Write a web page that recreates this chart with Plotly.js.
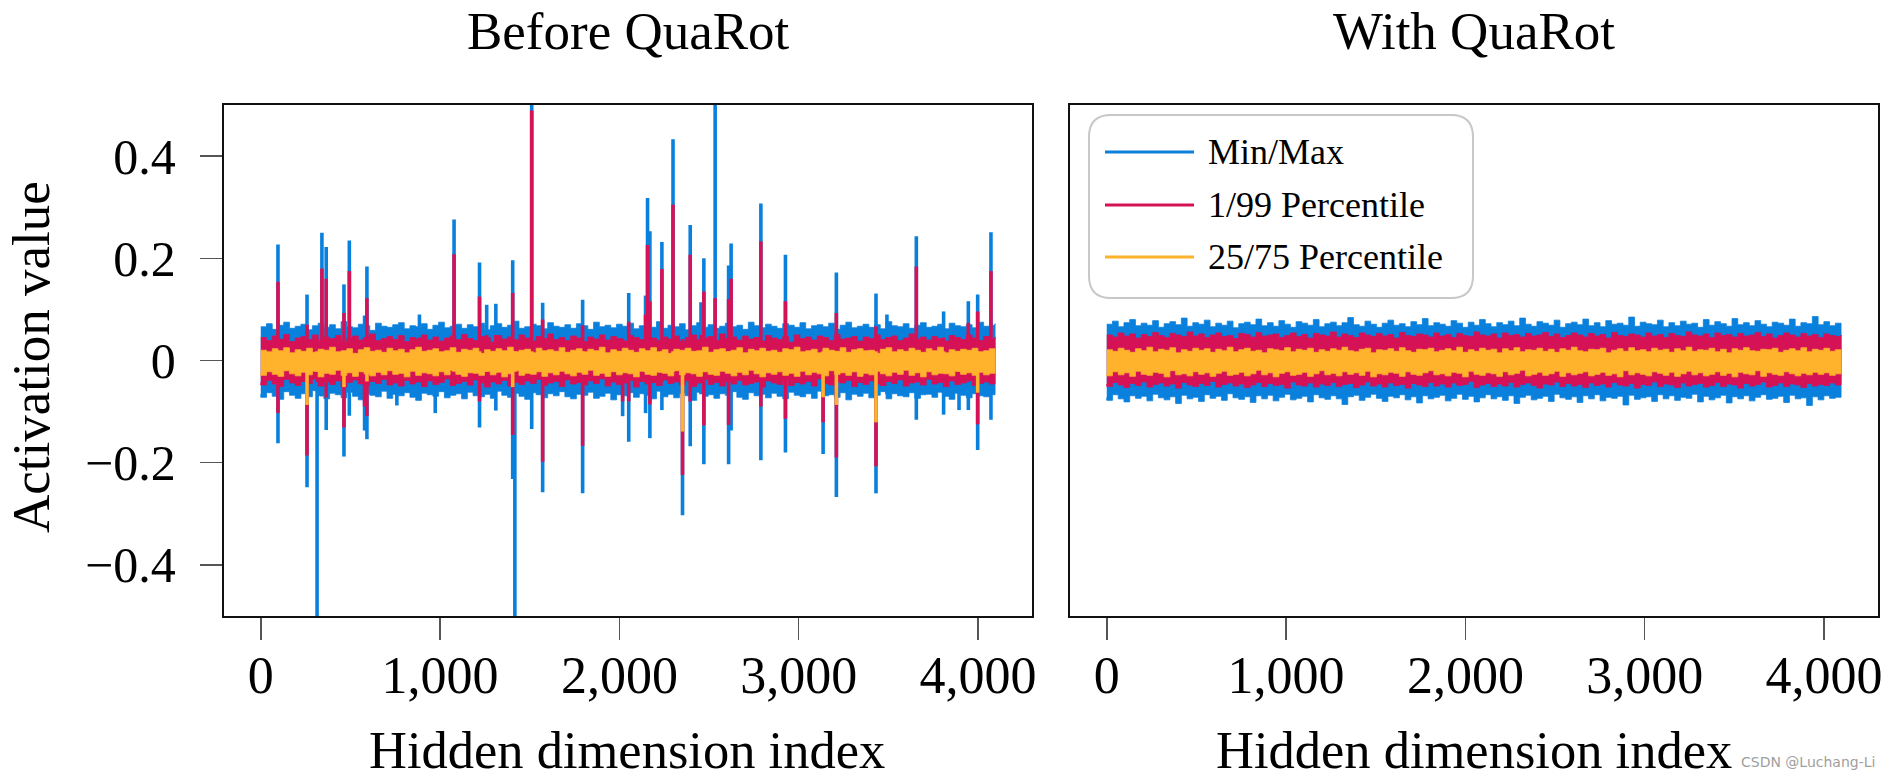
<!DOCTYPE html>
<html><head><meta charset="utf-8">
<script src="https://cdn.plot.ly/plotly-3.0.1.min.js"></script>
<style>html,body{margin:0;padding:0;background:#fff}#chart{width:1889px;height:779px}</style>
</head><body><div id="chart"></div>
<script>
// ---------------- DATA ----------------
// Hidden dimension 0..4095, band edges sampled evenly along the dimension.
const tickValsX = [0, 1000, 2000, 3000, 4000];
const tickTextX = ['0', '1,000', '2,000', '3,000', '4,000'];
const tickValsY = [-0.4, -0.2, 0, 0.2, 0.4];
const tickTextY = ['\u22120.4', '\u22120.2', '0', '0.2', '0.4'];
const seriesNames = ['Min/Max', '1/99 Percentile', '25/75 Percentile'];

// Before QuaRot – typical band edges
const leftMax = [.066,.072,.061,.069,.075,.063,.067,.071,.06,.068,.073,.065,.07,.062,.076,.066,.064,.071,.068,.059,.073,.067,.065,.07,.074,.062,.068,.066,.072,.061,.069,.075,.064,.067,.071,.063,.07,.066,.073,.06,.068,.072,.065,.069,.077,.063,.066,.071,.068,.062,.074,.067,.065,.07,.063,.072,.068,.061,.075,.066,.069,.064,.071,.067,.073,.062,.068,.07,.065,.076,.063,.069,.066,.072,.06,.068,.074,.065,.07,.063,.067,.073,.066,.069,.061,.075,.068,.064,.071,.067,.063,.072,.069,.065,.074,.062,.068,.07,.066,.073,.061,.069,.075,.064,.067,.071,.065,.07,.062,.076,.068,.066,.072,.063,.069,.074,.065,.067,.071,.062,.073,.068,.066,.07,.064,.075,.067,.069,.072];
const leftP99 = [.045,.039,.048,.042,.051,.037,.044,.047,.041,.05,.038,.046,.043,.049,.036,.044,.048,.04,.045,.052,.039,.043,.047,.041,.049,.037,.045,.042,.05,.04,.046,.038,.044,.048,.041,.051,.043,.039,.047,.045,.036,.049,.042,.046,.04,.05,.044,.038,.047,.043,.052,.041,.045,.039,.048,.044,.037,.046,.042,.05,.04,.047,.043,.038,.049,.045,.041,.051,.044,.039,.046,.042,.048,.037,.045,.05,.041,.044,.047,.039,.052,.043,.046,.04,.048,.042,.045,.038,.049,.044,.041,.047,.036,.05,.043,.046,.04,.048,.045,.039,.051,.042,.044,.047,.038,.046,.043,.05,.041,.045,.048,.039,.044,.052,.042,.046,.04,.047,.043,.038,.049,.045,.041,.05,.044,.039,.047,.042,.046];
const leftP75 = [.02,.017,.023,.019,.025,.015,.021,.018,.024,.016,.022,.02,.026,.017,.019,.023,.014,.021,.025,.018,.02,.016,.024,.019,.022,.015,.021,.026,.018,.02,.023,.017,.019,.025,.016,.022,.02,.024,.014,.021,.018,.023,.019,.026,.017,.02,.022,.015,.024,.019,.021,.018,.025,.016,.02,.023,.017,.022,.019,.026,.015,.021,.018,.024,.02,.016,.023,.019,.025,.017,.021,.014,.022,.02,.024,.018,.019,.026,.016,.021,.023,.017,.02,.025,.015,.022,.019,.024,.018,.02,.016,.023,.021,.026,.017,.019,.022,.015,.024,.02,.018,.025,.016,.021,.023,.019,.02,.014,.022,.025,.017,.021,.018,.024,.02,.016,.023,.019,.026,.015,.021,.018,.022,.02,.024,.017,.019,.023,.021];
const leftP25 = [-.025,-.029,-.022,-.027,-.031,-.02,-.026,-.03,-.023,-.028,-.021,-.032,-.025,-.027,-.019,-.029,-.024,-.031,-.022,-.026,-.03,-.023,-.028,-.02,-.027,-.025,-.032,-.021,-.029,-.024,-.026,-.03,-.022,-.028,-.019,-.027,-.031,-.024,-.025,-.029,-.021,-.028,-.023,-.032,-.026,-.02,-.029,-.025,-.027,-.022,-.031,-.024,-.028,-.021,-.026,-.03,-.023,-.027,-.019,-.029,-.025,-.031,-.022,-.028,-.024,-.026,-.032,-.021,-.027,-.029,-.023,-.025,-.03,-.02,-.028,-.024,-.026,-.031,-.022,-.027,-.029,-.021,-.025,-.03,-.023,-.028,-.019,-.026,-.032,-.024,-.027,-.022,-.029,-.025,-.031,-.021,-.028,-.023,-.026,-.03,-.02,-.027,-.024,-.029,-.022,-.031,-.025,-.028,-.021,-.026,-.03,-.023,-.027,-.019,-.029,-.024,-.032,-.022,-.028,-.025,-.026,-.03,-.021,-.027,-.024,-.029,-.023,-.028,-.025];
const leftP1 = [-.043,-.048,-.039,-.046,-.051,-.037,-.044,-.049,-.041,-.045,-.036,-.05,-.042,-.047,-.04,-.052,-.043,-.038,-.046,-.049,-.041,-.045,-.037,-.048,-.044,-.05,-.039,-.046,-.042,-.051,-.04,-.047,-.043,-.036,-.049,-.045,-.041,-.048,-.038,-.044,-.052,-.042,-.046,-.039,-.05,-.043,-.047,-.04,-.045,-.037,-.049,-.044,-.041,-.051,-.038,-.046,-.043,-.048,-.04,-.045,-.036,-.05,-.042,-.047,-.044,-.039,-.052,-.041,-.046,-.043,-.049,-.038,-.045,-.042,-.048,-.04,-.051,-.044,-.037,-.047,-.043,-.05,-.041,-.046,-.039,-.048,-.045,-.042,-.052,-.04,-.044,-.047,-.038,-.049,-.043,-.046,-.041,-.05,-.036,-.045,-.048,-.042,-.044,-.039,-.051,-.043,-.047,-.04,-.046,-.049,-.041,-.045,-.038,-.05,-.044,-.042,-.048,-.037,-.046,-.043,-.051,-.04,-.047,-.044,-.039,-.049,-.045,-.042,-.046];
const leftMin = [-.066,-.072,-.063,-.07,-.076,-.061,-.068,-.074,-.065,-.071,-.059,-.069,-.075,-.064,-.067,-.073,-.062,-.07,-.077,-.065,-.068,-.071,-.06,-.074,-.066,-.069,-.063,-.072,-.078,-.064,-.067,-.07,-.061,-.073,-.068,-.065,-.075,-.062,-.069,-.071,-.066,-.074,-.06,-.068,-.072,-.064,-.07,-.076,-.063,-.067,-.073,-.065,-.069,-.061,-.071,-.075,-.066,-.068,-.062,-.074,-.07,-.064,-.077,-.067,-.069,-.063,-.072,-.065,-.068,-.075,-.06,-.071,-.066,-.073,-.064,-.069,-.078,-.062,-.07,-.067,-.074,-.065,-.068,-.061,-.072,-.076,-.063,-.069,-.066,-.073,-.064,-.07,-.075,-.062,-.068,-.071,-.065,-.074,-.06,-.069,-.067,-.072,-.063,-.077,-.066,-.07,-.064,-.073,-.068,-.061,-.075,-.065,-.069,-.071,-.063,-.074,-.067,-.066,-.072,-.062,-.07,-.076,-.064,-.068,-.073,-.065,-.069,-.071,-.067];

// Before QuaRot – outlier channels
const spikeIdx = [96,258,314,341,365,464,494,579,592,759,885,973,1078,1220,1260,1311,1405,1417,1511,1572,1795,2018,2052,2146,2157,2170,2237,2299,2352,2395,2455,2471,2534,2609,2623,2789,2926,3136,3210,3431,3492,3656,3808,3894,3946,3998,4072];
const spikeMax = [.227,.129,.065,.25,.222,.149,.235,.088,.184,.065,.09,.065,.276,.192,.109,.111,.196,.065,.52,.113,.119,.065,.132,.127,.318,.253,.232,.433,.065,.265,.114,.2,.52,.186,.229,.307,.207,.065,.172,.131,.09,.243,.096,.065,.116,.129,.251];
const spikeP99 = [.154,.07,.042,.18,.16,.093,.175,.045,.122,.042,.045,.042,.208,.125,.05,.05,.132,.042,.489,.08,.069,.042,.076,.09,.226,.116,.179,.305,.042,.207,.05,.135,.122,.12,.16,.233,.116,.042,.093,.067,.045,.184,.045,.042,.074,.096,.175];
const spikeP75 = [.018,.018,.018,.018,.018,.018,.018,.018,.018,.018,.018,.018,.018,.018,.018,.018,.018,.018,.018,.018,.018,.018,.018,.018,.018,.018,.018,.018,.018,.018,.018,.018,.018,.018,.018,.018,.018,.018,.018,.018,.018,.018,.018,.018,.018,.018,.018];
const spikeP25 = [-.022,-.087,-.022,-.022,-.022,-.052,-.022,-.022,-.041,-.022,-.022,-.022,-.022,-.022,-.022,-.022,-.052,-.022,-.022,-.022,-.022,-.022,-.022,-.022,-.022,-.022,-.022,-.022,-.139,-.022,-.022,-.022,-.022,-.022,-.022,-.022,-.022,-.072,-.087,-.121,-.022,-.022,-.022,-.022,-.022,-.063,-.022];
const spikeP1 = [-.103,-.186,-.042,-.042,-.073,-.131,-.042,-.09,-.109,-.042,-.042,-.042,-.042,-.08,-.042,-.042,-.146,-.042,-.042,-.198,-.167,-.08,-.08,-.042,-.042,-.086,-.042,-.042,-.224,-.08,-.042,-.127,-.042,-.126,-.042,-.09,-.114,-.121,-.19,-.207,-.042,-.042,-.042,-.042,-.042,-.125,-.042];
const spikeMin = [-.162,-.248,-.55,-.07,-.136,-.188,-.108,-.137,-.154,-.088,-.07,-.103,-.066,-.131,-.066,-.098,-.232,-.55,-.134,-.258,-.26,-.109,-.159,-.103,-.066,-.152,-.097,-.066,-.303,-.168,-.066,-.203,-.066,-.203,-.137,-.195,-.18,-.183,-.267,-.26,-.066,-.116,-.106,-.097,-.097,-.175,-.116];

// With QuaRot – band edges
const rightMax = [.071,.077,.066,.074,.08,.068,.073,.069,.078,.065,.072,.076,.07,.083,.067,.074,.071,.079,.066,.073,.069,.077,.064,.072,.075,.07,.081,.068,.074,.067,.078,.071,.065,.076,.073,.069,.08,.066,.072,.075,.068,.074,.084,.07,.067,.077,.071,.065,.073,.079,.069,.072,.066,.076,.07,.082,.068,.074,.071,.067,.078,.073,.065,.075,.069,.08,.072,.066,.074,.07,.077,.068,.083,.071,.067,.076,.073,.069,.079,.065,.072,.075,.07,.081,.068,.074,.066,.078,.071,.073,.069,.085,.067,.075,.072,.07,.079,.066,.074,.068,.077,.071,.073,.065,.08,.069,.076,.072,.067,.082,.07,.074,.068,.078,.071,.066,.075,.073,.069,.081,.067,.074,.072,.086,.07,.076,.068,.073,.071];
const rightP99 = [.05,.046,.054,.048,.052,.044,.051,.047,.055,.049,.045,.053,.05,.047,.056,.048,.052,.045,.05,.054,.047,.049,.043,.053,.051,.046,.055,.048,.05,.052,.045,.049,.054,.047,.051,.044,.053,.05,.048,.056,.046,.052,.049,.045,.054,.05,.047,.053,.048,.051,.044,.055,.049,.047,.052,.05,.046,.054,.048,.051,.045,.053,.049,.047,.056,.05,.048,.052,.044,.054,.049,.051,.046,.053,.048,.05,.055,.047,.052,.045,.049,.054,.05,.046,.053,.048,.051,.044,.055,.049,.047,.052,.05,.046,.054,.048,.051,.045,.053,.049,.047,.056,.05,.048,.052,.045,.054,.049,.051,.046,.053,.048,.05,.055,.047,.052,.044,.049,.054,.05,.046,.053,.048,.051,.045,.052,.049,.047,.05];
const rightP75 = [.021,.018,.024,.02,.016,.023,.019,.026,.017,.022,.02,.025,.015,.021,.018,.024,.02,.023,.016,.022,.019,.026,.017,.021,.024,.018,.02,.015,.023,.021,.019,.025,.017,.022,.02,.024,.016,.021,.018,.023,.02,.026,.019,.017,.022,.024,.015,.021,.02,.023,.018,.025,.019,.016,.022,.021,.024,.017,.02,.023,.019,.026,.016,.021,.018,.024,.02,.022,.015,.023,.019,.025,.017,.021,.02,.024,.018,.022,.016,.023,.02,.026,.019,.017,.022,.021,.024,.015,.02,.023,.018,.025,.019,.021,.017,.024,.02,.022,.016,.023,.019,.026,.018,.021,.02,.024,.017,.022,.015,.023,.02,.025,.019,.018,.022,.021,.024,.016,.02,.023,.019,.025,.017,.022,.02,.024,.018,.021,.02];
const rightP25 = [-.026,-.03,-.022,-.028,-.024,-.031,-.021,-.027,-.029,-.023,-.025,-.032,-.02,-.028,-.026,-.03,-.022,-.027,-.024,-.031,-.025,-.021,-.029,-.027,-.023,-.03,-.026,-.019,-.028,-.024,-.032,-.025,-.022,-.029,-.027,-.023,-.031,-.026,-.02,-.028,-.025,-.03,-.022,-.027,-.024,-.029,-.021,-.032,-.026,-.028,-.023,-.025,-.031,-.022,-.027,-.029,-.024,-.02,-.028,-.026,-.03,-.023,-.025,-.032,-.021,-.027,-.029,-.024,-.026,-.031,-.022,-.028,-.025,-.019,-.03,-.027,-.023,-.029,-.026,-.021,-.031,-.024,-.028,-.025,-.022,-.03,-.027,-.023,-.029,-.026,-.032,-.02,-.028,-.024,-.027,-.03,-.022,-.025,-.029,-.023,-.031,-.026,-.021,-.028,-.024,-.03,-.027,-.022,-.029,-.025,-.032,-.023,-.026,-.028,-.02,-.031,-.024,-.027,-.029,-.022,-.026,-.03,-.025,-.028,-.023,-.027,-.024,-.029,-.026];
const rightP1 = [-.046,-.051,-.043,-.048,-.053,-.045,-.049,-.042,-.052,-.047,-.044,-.05,-.046,-.054,-.043,-.048,-.051,-.045,-.049,-.041,-.052,-.047,-.044,-.05,-.046,-.053,-.048,-.043,-.051,-.045,-.049,-.047,-.054,-.042,-.048,-.05,-.044,-.052,-.046,-.049,-.043,-.051,-.047,-.045,-.053,-.048,-.042,-.05,-.046,-.052,-.044,-.049,-.047,-.054,-.045,-.048,-.051,-.043,-.05,-.046,-.052,-.044,-.049,-.047,-.041,-.053,-.048,-.045,-.051,-.046,-.05,-.043,-.052,-.047,-.044,-.049,-.054,-.046,-.048,-.042,-.051,-.045,-.05,-.047,-.053,-.044,-.049,-.046,-.052,-.043,-.048,-.05,-.045,-.054,-.047,-.049,-.042,-.051,-.046,-.048,-.053,-.044,-.05,-.047,-.045,-.052,-.049,-.043,-.051,-.046,-.048,-.054,-.045,-.05,-.047,-.042,-.052,-.049,-.044,-.051,-.046,-.048,-.053,-.045,-.05,-.047,-.049,-.044,-.048];
const rightMin = [-.072,-.078,-.067,-.075,-.081,-.069,-.074,-.07,-.079,-.066,-.073,-.077,-.071,-.084,-.068,-.075,-.072,-.08,-.067,-.074,-.07,-.078,-.065,-.073,-.076,-.071,-.082,-.069,-.075,-.068,-.079,-.072,-.066,-.077,-.074,-.07,-.081,-.067,-.073,-.076,-.069,-.075,-.086,-.071,-.068,-.078,-.072,-.066,-.074,-.08,-.07,-.073,-.067,-.077,-.071,-.083,-.069,-.075,-.072,-.068,-.079,-.074,-.066,-.076,-.07,-.081,-.073,-.067,-.075,-.071,-.078,-.069,-.084,-.072,-.068,-.077,-.074,-.07,-.08,-.066,-.073,-.076,-.071,-.082,-.069,-.075,-.067,-.079,-.072,-.074,-.07,-.087,-.068,-.076,-.073,-.071,-.08,-.067,-.075,-.069,-.078,-.072,-.074,-.066,-.081,-.07,-.077,-.073,-.068,-.083,-.071,-.075,-.069,-.079,-.072,-.067,-.076,-.074,-.07,-.082,-.068,-.075,-.073,-.088,-.071,-.077,-.069,-.074,-.072];

// ---------------- STYLE ----------------
const W = 1889, H = 779;
const COLORS = ['#0A80DD', '#D61257', '#FFB22C'];
const FONT = 'Liberation Serif, Times New Roman, serif';
const LASTDIM = 4095;
const px = v => v / W, py = v => 1 - v / H;

function dims(arr) { const n = arr.length; return arr.map((_, i) => Math.round(i * LASTDIM / (n - 1))); }

function band(upper, lower, color, xa, ya) {
  const xu = dims(upper), xl = dims(lower);
  return {
    type: 'scatter', mode: 'lines', xaxis: xa, yaxis: ya,
    x: xu.concat(xl.slice().reverse()),
    y: upper.concat(lower.slice().reverse()),
    fill: 'toself', fillcolor: color,
    line: { color: color, width: 0.8, shape: 'hv' },
    hoverinfo: 'skip', showlegend: false
  };
}
function spikes(lo, hi, color, xa, ya) {
  const x = [], y = [];
  spikeIdx.forEach((d, i) => { x.push(d, d, null); y.push(lo[i], hi[i], null); });
  return {
    type: 'scatter', mode: 'lines', xaxis: xa, yaxis: ya, x, y,
    line: { color: color, width: 3.6 }, connectgaps: false,
    hoverinfo: 'skip', showlegend: false
  };
}

const data = [
  band(leftMax, leftMin, COLORS[0], 'x', 'y'),
  spikes(spikeMin, spikeMax, COLORS[0], 'x', 'y'),
  band(leftP99, leftP1, COLORS[1], 'x', 'y'),
  spikes(spikeP1, spikeP99, COLORS[1], 'x', 'y'),
  band(leftP75, leftP25, COLORS[2], 'x', 'y'),
  spikes(spikeP25, spikeP75, COLORS[2], 'x', 'y'),
  band(rightMax, rightMin, COLORS[0], 'x2', 'y2'),
  band(rightP99, rightP1, COLORS[1], 'x2', 'y2'),
  band(rightP75, rightP25, COLORS[2], 'x2', 'y2')
];

const PANEL = { lx0: 224, lx1: 1032, rx0: 1070, rx1: 1878, top: 105, bottom: 616 };
const XRANGE = [-205, 4301];
const YRANGE = [-0.5, 0.5];

function xAxis(d0, d1, anchor) {
  return {
    domain: [px(d0), px(d1)], range: XRANGE, anchor: anchor,
    tickmode: 'array', tickvals: tickValsX, ticktext: tickTextX,
    ticks: 'outside', ticklen: 22, tickwidth: 1.5, tickcolor: '#555',
    ticklabelstandoff: -10,
    tickfont: { family: FONT, size: 52, color: '#000' },
    showline: true, mirror: true, linecolor: '#111', linewidth: 2.2,
    showgrid: false, zeroline: false, fixedrange: true
  };
}
function yAxis(anchor, labels) {
  return {
    domain: [py(PANEL.bottom), py(PANEL.top)], range: YRANGE, anchor: anchor,
    tickmode: 'array', tickvals: tickValsY, ticktext: tickTextY,
    ticks: labels ? 'outside' : '', ticklen: 22, tickwidth: 1.5, tickcolor: '#555',
    showticklabels: labels, ticklabelstandoff: 14,
    tickfont: { family: FONT, size: 50, color: '#000' },
    showline: true, mirror: true, linecolor: '#111', linewidth: 2.2,
    showgrid: false, zeroline: false, fixedrange: true
  };
}

// legend box (rounded) built from pixel geometry
const LG = { x0: 1089, x1: 1473, y0: 115, y1: 298, r: 22 };
function roundedRect(b) {
  const X = v => px(v).toFixed(5), Y = v => py(v).toFixed(5);
  return `M ${X(b.x0 + b.r)} ${Y(b.y0)} L ${X(b.x1 - b.r)} ${Y(b.y0)} Q ${X(b.x1)} ${Y(b.y0)} ${X(b.x1)} ${Y(b.y0 + b.r)} ` +
         `L ${X(b.x1)} ${Y(b.y1 - b.r)} Q ${X(b.x1)} ${Y(b.y1)} ${X(b.x1 - b.r)} ${Y(b.y1)} ` +
         `L ${X(b.x0 + b.r)} ${Y(b.y1)} Q ${X(b.x0)} ${Y(b.y1)} ${X(b.x0)} ${Y(b.y1 - b.r)} ` +
         `L ${X(b.x0)} ${Y(b.y0 + b.r)} Q ${X(b.x0)} ${Y(b.y0)} ${X(b.x0 + b.r)} ${Y(b.y0)} Z`;
}
const legendRows = [152, 205, 257];
const shapes = [{ type: 'path', xref: 'paper', yref: 'paper', path: roundedRect(LG),
  line: { color: '#C8C8C8', width: 2 }, fillcolor: 'rgba(255,255,255,1)', layer: 'above' }];
const annotations = [];
seriesNames.forEach((name, i) => {
  shapes.push({ type: 'line', xref: 'paper', yref: 'paper', x0: px(1105), x1: px(1194),
    y0: py(legendRows[i]), y1: py(legendRows[i]), line: { color: COLORS[i], width: 3 }, layer: 'above' });
  annotations.push({ xref: 'paper', yref: 'paper', x: px(1206), y: py(legendRows[i]), xanchor: 'left', yanchor: 'middle',
    text: name, showarrow: false, font: { family: FONT, size: 36, color: '#000' } });
});

// titles
const titleFont = { family: FONT, size: 53, color: '#000' };
const axisTitleFont = { family: FONT, size: 52.5, color: '#000' };
annotations.push(
  { xref: 'paper', yref: 'paper', x: px((PANEL.lx0 + PANEL.lx1) / 2), y: py(31), xanchor: 'center', yanchor: 'middle', text: 'Before QuaRot', showarrow: false, font: titleFont, borderpad: 0 },
  { xref: 'paper', yref: 'paper', x: px((PANEL.rx0 + PANEL.rx1) / 2), y: py(31), xanchor: 'center', yanchor: 'middle', text: 'With QuaRot', showarrow: false, font: titleFont, borderpad: 0 },
  { xref: 'paper', yref: 'paper', x: px(627), y: py(750), xanchor: 'center', yanchor: 'middle', text: 'Hidden dimension index', showarrow: false, font: axisTitleFont, borderpad: 0 },
  { xref: 'paper', yref: 'paper', x: px(1474), y: py(750), xanchor: 'center', yanchor: 'middle', text: 'Hidden dimension index', showarrow: false, font: axisTitleFont, borderpad: 0 },
  { xref: 'paper', yref: 'paper', x: px(31), y: py(357), xanchor: 'center', yanchor: 'middle', textangle: -90, text: 'Activation value', showarrow: false, font: { family: FONT, size: 53, color: '#000' }, borderpad: 0 },
  { xref: 'paper', yref: 'paper', x: px(1877), y: py(762), xanchor: 'right', yanchor: 'middle', text: 'CSDN @Luchang-Li', showarrow: false, font: { family: 'DejaVu Sans, sans-serif', size: 14, color: '#A0A0A0' } }
);

const layout = {
  width: W, height: H, margin: { l: 0, r: 0, t: 0, b: 0 },
  paper_bgcolor: '#fff', plot_bgcolor: '#fff', showlegend: false,
  xaxis: xAxis(PANEL.lx0, PANEL.lx1, 'y'),
  yaxis: yAxis('x', true),
  xaxis2: xAxis(PANEL.rx0, PANEL.rx1, 'y2'),
  yaxis2: yAxis('x2', false),
  shapes, annotations
};

Plotly.newPlot('chart', data, layout, { displayModeBar: false, staticPlot: true });
</script></body></html>
